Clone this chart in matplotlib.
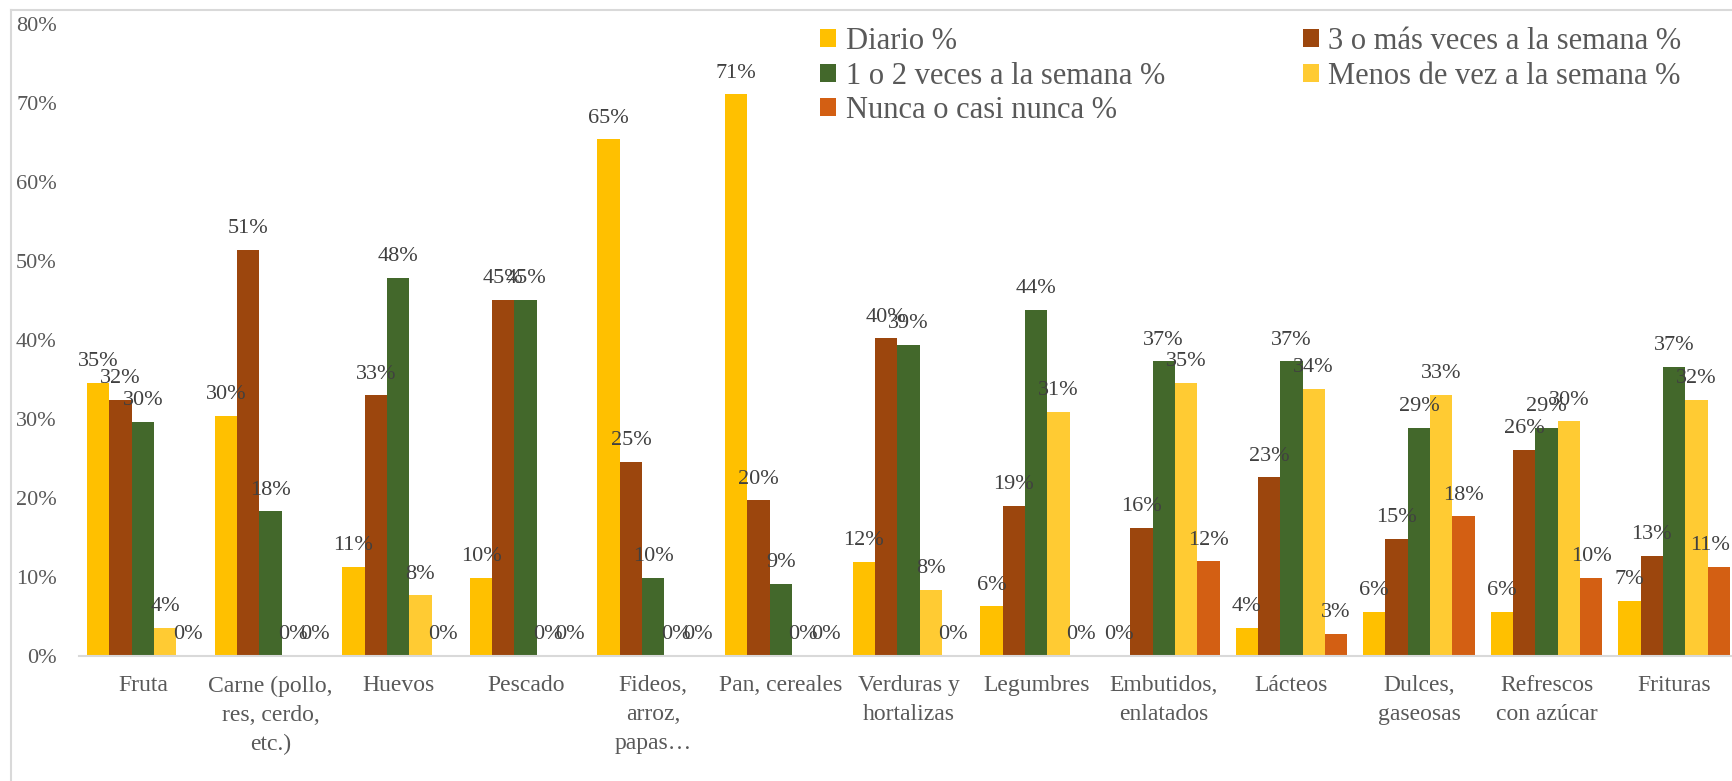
import matplotlib
matplotlib.use("Agg")
import matplotlib.pyplot as plt
from matplotlib.patches import Patch
from matplotlib.lines import Line2D
import numpy as np

categories = ["Fruta", "Carne (pollo,\nres, cerdo,\netc.)", "Huevos", "Pescado",
              "Fideos,\narroz,\npapas…", "Pan, cereales", "Verduras y\nhortalizas",
              "Legumbres", "Embutidos,\nenlatados", "Lácteos", "Dulces,\ngaseosas",
              "Refrescos\ncon azúcar", "Frituras"]

diario = [34.6, 30.4, 11.3, 9.9, 65.4, 71.1, 11.9, 6.3, 0.0, 3.6, 5.6, 5.6, 7.0]
tres_mas = [32.4, 51.4, 33.0, 45.1, 24.6, 19.7, 40.2, 19.0, 16.2, 22.6, 14.8, 26.1, 12.7]
uno_dos = [29.6, 18.3, 47.9, 45.1, 9.9, 9.1, 39.4, 43.8, 37.3, 37.3, 28.9, 28.9, 36.6]
menos = [3.6, 0.0, 7.7, 0.0, 0.0, 0.0, 8.4, 30.9, 34.6, 33.8, 33.1, 29.7, 32.4]
nunca = [0.0, 0.0, 0.0, 0.0, 0.0, 0.0, 0.0, 0.0, 12.0, 2.8, 17.7, 9.9, 11.3]

series_names = ["Diario %", "3 o más veces a la semana %", "1 o 2 veces a la semana %",
                "Menos de vez a la semana %", "Nunca o casi nunca %"]
series_values = [diario, tres_mas, uno_dos, menos, nunca]
colors = ["#FFC000", "#9C460D", "#43682B", "#FFCB33", "#D35F13"]

yticks = [0, 10, 20, 30, 40, 50, 60, 70, 80]

plt.rcParams['font.family'] = ['Liberation Serif', 'DejaVu Serif']

W, H = 1733, 781
fig = plt.figure(figsize=(W / 100, H / 100), dpi=100)
ax = fig.add_axes([79 / W, 1 - 656 / H, (1738 - 79) / W, (656 - 24) / H])

x = np.arange(len(categories))
w = 0.175
labels = []
for i, (vals, col) in enumerate(zip(series_values, colors)):
    pos = x + (i - 2) * w
    ax.bar(pos, vals, width=w, color=col, zorder=2)
    for px, v in zip(pos, vals):
        t = ax.annotate(f"{round(v):d}%", xy=(px, v), xytext=(0, 12), textcoords="offset points",
                        ha="center", va="baseline", fontsize=16, color="#404040", zorder=3)
        labels.append(t)

ax.set_xlim(-0.5, len(categories) - 0.5)
ax.set_ylim(0, 80)
ax.set_yticks(yticks)
ax.set_yticklabels([f"{t}%" for t in yticks])
ax.set_xticks(x)
ax.set_xticklabels(categories, linespacing=1.5)
ax.tick_params(axis="y", length=0, pad=16, labelsize=16, labelcolor="#595959")
ax.tick_params(axis="x", length=0, pad=14, labelsize=17, labelcolor="#595959")
for s in ["top", "right", "left"]:
    ax.spines[s].set_visible(False)
ax.spines["bottom"].set_color("#D9D9D9")
ax.spines["bottom"].set_linewidth(1.5)
ax.spines["bottom"].set_zorder(4)

handles = [Patch(facecolor=c, edgecolor="none") for c in colors]
leg_kw = dict(frameon=False, fontsize=22, handlelength=0.52, handleheight=0.52,
              handletextpad=0.3, labelspacing=0.18, borderpad=0, borderaxespad=0,
              labelcolor="#595959")
leg1 = fig.legend([handles[0], handles[2], handles[4]],
                  [series_names[0], series_names[2], series_names[4]],
                  loc="upper left", bbox_to_anchor=(820.5 / W, 1 - 27 / H), **leg_kw)
leg2 = fig.legend([handles[1], handles[3]], [series_names[1], series_names[3]],
                  loc="upper left", bbox_to_anchor=(1303 / W, 1 - 27 / H), **leg_kw)

# chart border (light gray)
fig.add_artist(Line2D([11 / W, 1], [1 - 10 / H, 1 - 10 / H], transform=fig.transFigure,
                      color="#D9D9D9", linewidth=1.5))
fig.add_artist(Line2D([11 / W, 11 / W], [0, 1 - 10 / H], transform=fig.transFigure,
                      color="#D9D9D9", linewidth=1.5))

# keep data labels inside the chart area (as the spreadsheet does)
fig.canvas.draw()
renderer = fig.canvas.get_renderer()
for t in labels:
    bb = t.get_window_extent(renderer)
    if bb.x1 > W - 3:
        shift = (bb.x1 - (W - 3)) * 72 / 100
        ox, oy = t.xyann
        t.xyann = (ox - shift, oy)

fig.savefig("out.png", dpi=100)
